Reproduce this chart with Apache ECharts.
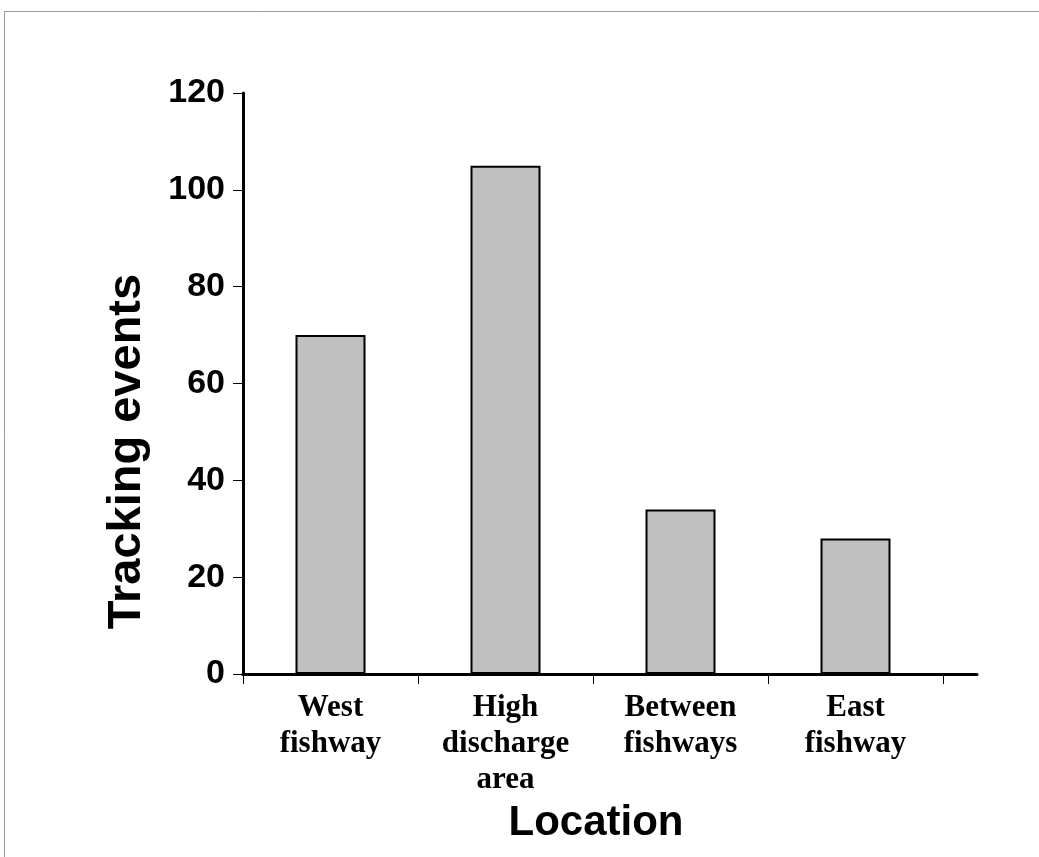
<!DOCTYPE html>
<html>
<head>
<meta charset="utf-8">
<script src="https://cdn.jsdelivr.net/npm/echarts@6/dist/echarts.min.js"></script>
<style>html,body{margin:0;padding:0;background:#fff;}#chart{width:1039px;height:857px;}</style>
</head>
<body>
<div id="chart"></div>
<script>
var categories = ["West\nfishway", "High\ndischarge\narea", "Between\nfishways", "East\nfishway"];
var trackingEvents = [70, 105, 34, 28];
var yTicks = { min: 0, max: 120, interval: 20 };

var chart = echarts.init(document.getElementById('chart'), null, { renderer: 'canvas' });
chart.setOption({
  backgroundColor: '#ffffff',
  animation: false,
  graphic: [{
    type: 'rect', silent: true, z: -1,
    shape: { x: 4.5, y: 11.5, width: 1200, height: 1000 },
    style: { fill: 'none', stroke: '#999999', lineWidth: 1 }
  }],
  grid: [
    { left: 243, top: 93, width: 700, height: 581 },
    { left: 243, top: 93, width: 734, height: 581 }
  ],
  xAxis: [{
    type: 'category', gridIndex: 0, data: categories,
    axisLine: { lineStyle: { color: '#000', width: 3 } },
    axisTick: { show: true, interval: 0, length: 10, lineStyle: { color: '#000', width: 1 } },
    axisLabel: { interval: 0, margin: 16, color: '#000', fontFamily: 'Liberation Serif', fontWeight: 'bold', fontSize: 31, lineHeight: 36 },
    name: 'Location', nameLocation: 'middle', nameGap: 125,
    nameTextStyle: { color: '#000', fontFamily: 'Liberation Sans', fontWeight: 'bold', fontSize: 42, padding: [0, 0, 0, 6] }
  }, {
    type: 'value', gridIndex: 1, min: 0, max: 1,
    axisLine: { lineStyle: { color: '#000', width: 3 } },
    axisTick: { show: false }, axisLabel: { show: false }, splitLine: { show: false }
  }],
  yAxis: [{
    type: 'value', gridIndex: 0, min: yTicks.min, max: yTicks.max, interval: yTicks.interval,
    axisLine: { show: true, lineStyle: { color: '#000', width: 3 } },
    axisTick: { show: true, length: 10, lineStyle: { color: '#000', width: 1 } },
    splitLine: { show: false },
    axisLabel: { margin: 18, color: '#000', fontFamily: 'Liberation Sans', fontWeight: 'bold', fontSize: 34 },
    name: 'Tracking events', nameLocation: 'middle', nameGap: 92, nameRotate: 90,
    nameTextStyle: { color: '#000', fontFamily: 'Liberation Sans', fontWeight: 'bold', fontSize: 47, padding: [0, 136, 0, 0] }
  }, {
    type: 'value', gridIndex: 1, min: 0, max: 1, show: false
  }],
  series: [{
    type: 'bar', xAxisIndex: 0, yAxisIndex: 0, data: trackingEvents,
    barWidth: '40%',
    itemStyle: { color: '#c0c0c0', borderColor: '#000', borderWidth: 2 }
  }]
});
</script>
</body>
</html>
